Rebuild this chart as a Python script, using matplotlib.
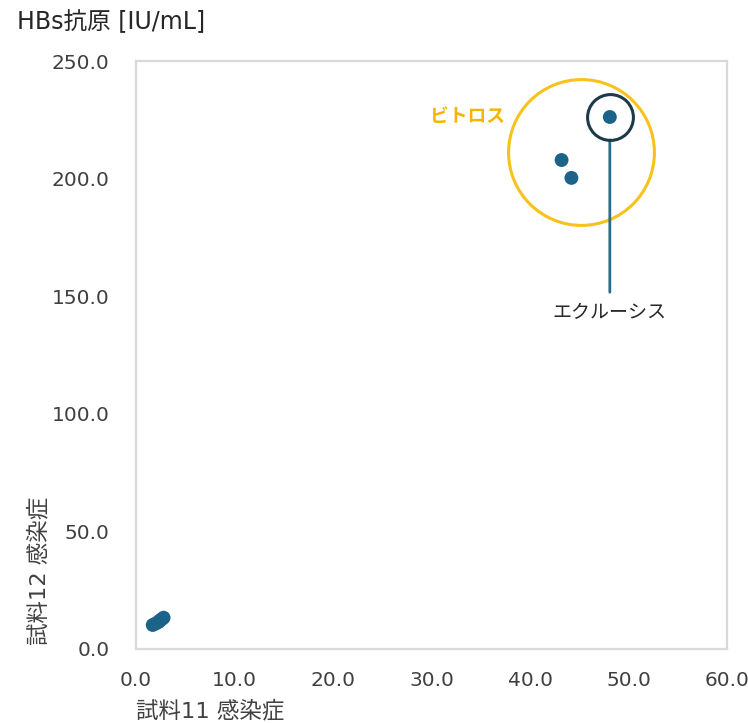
import matplotlib
matplotlib.use("Agg")
import matplotlib.pyplot as plt
import numpy as np

plt.rcParams['font.family'] = ['DejaVu Sans', 'Noto Sans CJK JP']

# sample 11 vs sample 12 HBs antigen (IU/mL)
vitros_x = [48.1, 43.2, 44.2]
vitros_y = [226.2, 207.9, 200.3]
low_x = [1.7, 2.0, 2.3, 2.4, 2.6, 2.8]
low_y = [10.2, 10.8, 11.5, 12.0, 12.6, 13.3]

x_ticks = [0, 10, 20, 30, 40, 50, 60]
y_ticks = [0, 50, 100, 150, 200, 250]

DOT = '#1b6388'
GRID = '#d9d9d9'
TXT = '#404040'
YELLOW = '#f7c21a'

fig = plt.figure(figsize=(7.48, 7.23), dpi=100)
ax = fig.add_axes([0.1818, 0.1024, 0.7902, 0.8132])

ax.scatter(low_x + vitros_x, low_y + vitros_y, s=100, color=DOT,
           edgecolors='none', zorder=3)

# highlight circles
cx, cy = np.mean(vitros_x), np.mean(vitros_y)
ax.plot([cx], [cy], marker='o', ms=105, mfc='none', mec=YELLOW, mew=2.2,
        zorder=2)
ax.plot([vitros_x[0]], [vitros_y[0]], marker='o', ms=33, mfc='none',
        mec='#1d3a4a', mew=2.2, zorder=4)
ax.text(cx - 7.7, cy + 15, 'ビトロス', color='#f5b400', fontsize=13.5,
        ha='right', va='center', fontweight='bold')
ax.annotate('エクルーシス', xy=(vitros_x[0], vitros_y[0]),
            xytext=(0, -141), textcoords='offset points',
            ha='center', va='center', fontsize=13.7, color='#262626',
            arrowprops=dict(arrowstyle='-', color='#2b6c8c', lw=2,
                            shrinkA=6, shrinkB=16.5))

ax.set_xlim(0, 60)
ax.set_ylim(0, 250)
ax.set_xticks(x_ticks)
ax.set_yticks(y_ticks)
ax.set_xticklabels([f'{v:.1f}' for v in x_ticks])
ax.set_yticklabels([f'{v:.1f}' for v in y_ticks])
ax.tick_params(length=0, labelsize=14.5, colors=TXT)
ax.tick_params(axis='x', pad=16)
ax.tick_params(axis='y', pad=19)
for s in ax.spines.values():
    s.set_color(GRID)
    s.set_linewidth(1.6)

fig.text(17 / 748, 1 - 22 / 723, 'HBs抗原 [IU/mL]', fontsize=17,
         color='#262626', va='center', ha='left')
fig.text(136 / 748, 1 - 710 / 723, '試料11 感染症', fontsize=16.2,
         color=TXT, va='center', ha='left')
fig.text(38 / 748, 1 - 645 / 723, '試料12 感染症', fontsize=16.2,
         color=TXT, va='bottom', ha='center', rotation=90)

fig.savefig('out.png', dpi=100)
